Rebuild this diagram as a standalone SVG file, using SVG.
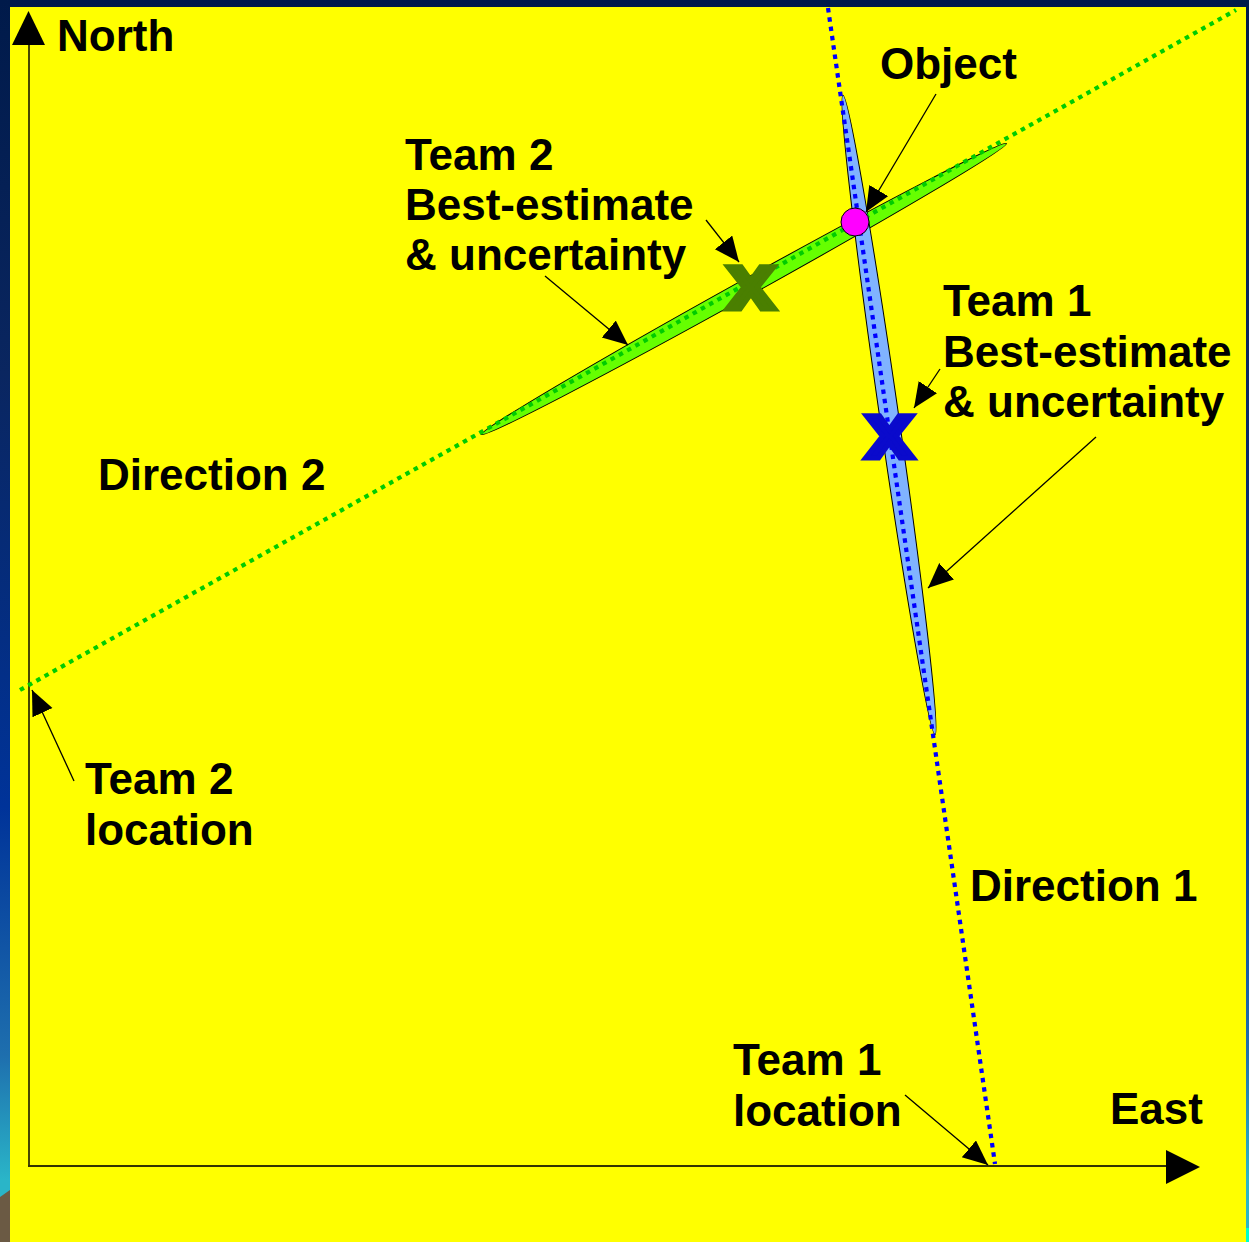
<svg xmlns="http://www.w3.org/2000/svg" width="1249" height="1242" viewBox="0 0 1249 1242">
<style>
.lbl{font-family:"Liberation Sans",Arial,sans-serif;font-weight:bold;font-size:44px;fill:#000}
.lead{stroke:#000;stroke-width:1.3;fill:none;marker-end:url(#ah)}
.axis{stroke:#333300;stroke-width:1.8;fill:none}
.dot{stroke-width:4.2;stroke-dasharray:4.5 4.9;fill:none}
.mark{font-family:"Liberation Sans",Arial,sans-serif;font-weight:bold;font-size:80px;stroke-width:5;stroke-linejoin:miter}
</style>
<defs>
<linearGradient id="bg" x1="0" y1="0" x2="0" y2="1">
<stop offset="0" stop-color="#001a4a"/>
<stop offset="0.3" stop-color="#0a2660"/>
<stop offset="0.65" stop-color="#003399"/>
<stop offset="0.85" stop-color="#1e6fae"/>
<stop offset="0.95" stop-color="#2ab5c8"/>
<stop offset="1" stop-color="#2ab5c8"/>
</linearGradient>
<marker id="ah" markerUnits="userSpaceOnUse" markerWidth="26" markerHeight="24" refX="25" refY="11" orient="auto">
<path d="M0,0 L25,11 L0,22 Z" fill="#000"/>
</marker>
</defs>
<rect x="0" y="0" width="1249" height="1242" fill="url(#bg)"/>
<polygon points="0,1197 10,1190 10,1242 0,1242" fill="#6b5a44"/>
<rect x="1246" y="1228" width="3" height="14" fill="#00ffcc"/>
<rect x="10" y="7" width="1236" height="1235" fill="#ffff00"/>

<g id="axes">
<line class="axis" x1="29" y1="44" x2="29" y2="1166"/>
<line class="axis" x1="28" y1="1166" x2="1167" y2="1166"/>
<polygon points="28.5,11 12,45 45,45" fill="#000"/>
<polygon points="1200,1167 1166,1150 1166,1184" fill="#000"/>
</g>

<g id="team2-uncertainty">
<ellipse cx="744" cy="289" rx="300" ry="8.5" transform="rotate(-29 744 289)" fill="#66ff00" stroke="#000" stroke-width="1"/>
</g>
<g id="team1-uncertainty">
<ellipse cx="889" cy="415" rx="323" ry="9.5" transform="rotate(81.8 889 415)" fill="#80b3ff" stroke="#000" stroke-width="1"/>
</g>

<g id="connectors">
<line class="dot" x1="20" y1="690" x2="1236" y2="10" stroke="#00cc00"/>
<line class="dot" x1="828" y1="8" x2="995" y2="1164" stroke="#0000ff"/>
<line class="lead" x1="936" y1="94" x2="866" y2="212"/>
<line class="lead" x1="706" y1="220" x2="739" y2="262"/>
<line class="lead" x1="545" y1="276" x2="628" y2="345"/>
<line class="lead" x1="940" y1="369" x2="914" y2="408"/>
<line class="lead" x1="1096" y1="437" x2="928" y2="588"/>
<line class="lead" x1="74" y1="781" x2="32" y2="690"/>
<line class="lead" x1="905" y1="1095" x2="988" y2="1165"/>
</g>

<g id="team2-estimate">
<text class="mark" transform="translate(751,309) scale(1.1,1)" text-anchor="middle" fill="#4a7f00" stroke="#4a7f00">x</text>
</g>
<g id="team1-estimate">
<text class="mark" transform="translate(889.5,458) scale(1.1,1)" text-anchor="middle" fill="#0a0acc" stroke="#0a0acc">x</text>
</g>
<g id="object">
<circle cx="855" cy="222" r="14" fill="#ff00ff" stroke="#000" stroke-width="1"/>
</g>

<g id="labels">
<text class="lbl" x="57" y="51">North</text>
<text class="lbl" x="880" y="79">Object</text>
<text class="lbl" x="405" y="170">Team 2</text>
<text class="lbl" x="405" y="220">Best-estimate</text>
<text class="lbl" x="405" y="270">&amp; uncertainty</text>
<text class="lbl" x="943" y="316">Team 1</text>
<text class="lbl" x="943" y="367">Best-estimate</text>
<text class="lbl" x="943" y="417">&amp; uncertainty</text>
<text class="lbl" x="98" y="490">Direction 2</text>
<text class="lbl" x="85" y="794">Team 2</text>
<text class="lbl" x="85" y="845">location</text>
<text class="lbl" x="970" y="901">Direction 1</text>
<text class="lbl" x="733" y="1075">Team 1</text>
<text class="lbl" x="733" y="1126">location</text>
<text class="lbl" x="1110" y="1124">East</text>
</g>
</svg>
